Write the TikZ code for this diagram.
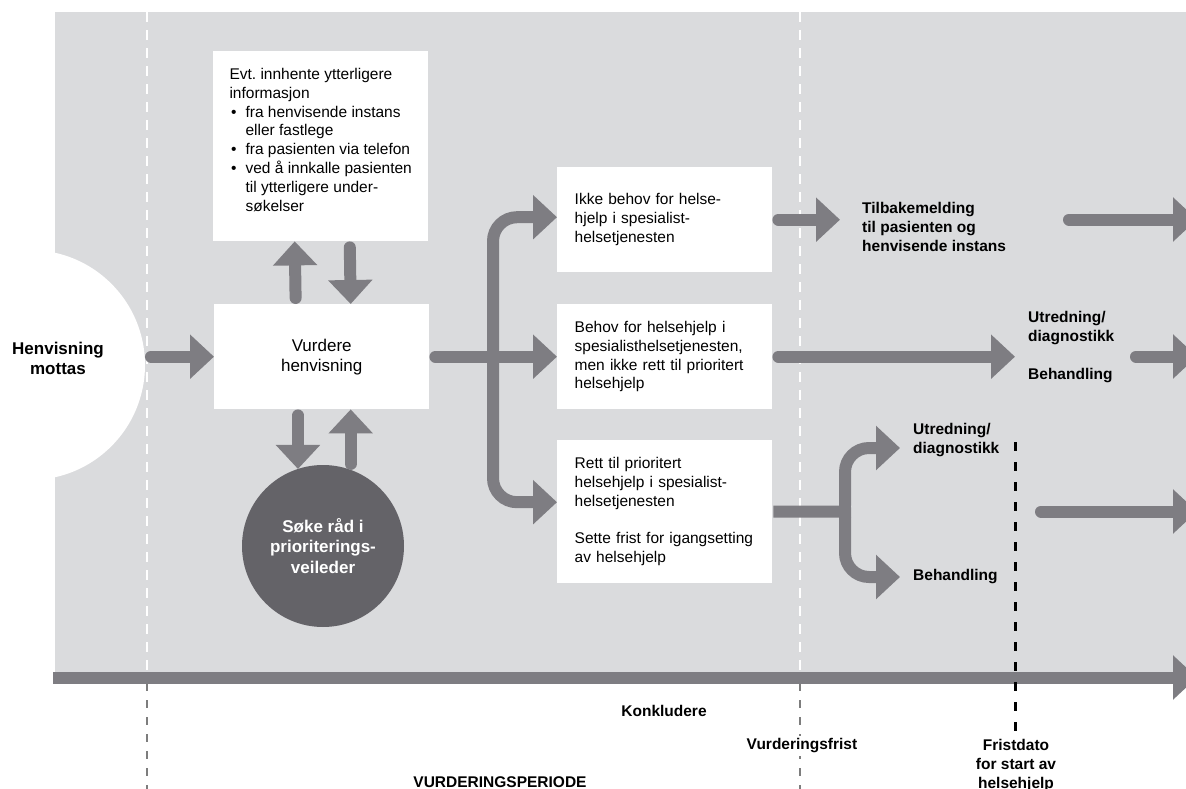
\documentclass[tikz,border=0pt]{standalone}
\usepackage{fontspec}
\setmainfont{Liberation Sans}
\frenchspacing
\usetikzlibrary{arrows.meta}

\definecolor{bggray}{RGB}{218,219,221}
\definecolor{arrowgray}{RGB}{126,125,130}
\definecolor{circgray}{RGB}{100,99,104}
\definecolor{dashgray}{RGB}{125,125,125}

\newcommand\txtfont{\fontsize{15.5}{18.8}\selectfont}
\newcommand\lblfont{\bfseries\fontsize{15.5}{19}\selectfont}
\newcommand\pkt{\makebox[16pt][l]{\hspace{1.5pt}\textbullet}}
\newcommand\inn{\hspace*{16pt}}

\begin{document}
\begin{tikzpicture}[x=1pt,y=-1pt,
                box/.style={rectangle,fill=white,anchor=north west,inner xsep=17.5pt,
                inner ysep=0pt,text width=180pt,minimum height=105pt,align=left,font=\txtfont},
                infobox/.style={rectangle,fill=white,anchor=north west,inner sep=0pt,
                minimum width=215pt,minimum height=190pt,align=left,font=\txtfont},
                flow/.style={draw=arrowgray,line width=12pt,line cap=round,shorten <=6pt,
                -{Triangle[length=24pt,width=43pt]}},
                lbl/.style={font=\lblfont,align=left,inner sep=0pt},
                whitedash/.style={draw=white,line width=2pt,dash pattern=on 10pt off 8pt},
                greydash/.style={draw=dashgray,line width=2.5pt,dash pattern=on 8pt off 9pt},
                blackdash/.style={draw=black,line width=3pt,dash pattern=on 9pt off 11pt}]
                \useasboundingbox (0,0) rectangle (1186,789);
                \clip (0,0) rectangle (1186,789);
                % grey field and timeline marks
                \fill[bggray] (55,12) rectangle (1186,672);
                \node (start) at (30,365) [circle,fill=white,inner sep=0pt,outer sep=0pt,minimum size=230pt] {};
                \draw[whitedash] (147,12) -- (147,672);
                \draw[whitedash] (800,12) -- (800,672);
                \draw[greydash] (147,683) -- (147,789);
                \draw[greydash] (800,683) -- (800,789);

                \node (mottas) at (58,358) [lbl,align=center,font=\bfseries\fontsize{17}{20}\selectfont] {Henvisning\\mottas};
                \node (info) at (213,51) [infobox] {Evt. innhente ytterligere\\
                    informasjon\\
                    \pkt fra henvisende instans\\
                    \inn eller fastlege\\
                    \pkt fra pasienten via telefon\\
                    \pkt ved å innkalle pasienten\\
                    \inn til ytterligere under-\\
                    \inn søkelser\rule[-13pt]{0pt}{13pt}};
                \node (vurdere) at (214,304) [box,align=center,font=\fontsize{17}{20}\selectfont] {Vurdere\\henvisning};
                \node (soke) at (323,546) [circle,fill=circgray,text=white,inner sep=0pt,outer sep=0pt,
                    minimum size=162pt,align=center,font=\bfseries\fontsize{17}{20.5}\selectfont] {Søke råd i\\prioriterings-\\veileder};

                \node (ikke) at (557,167) [box] {Ikke behov for helse-\\hjelp i spesialist-\\helsetjenesten};
                \node (behov) at (557,304) [box] {Behov for helsehjelp i\\spesialisthelsetjenesten,\\men ikke rett til prioritert\\helsehjelp};
                \node (rett) at (557,440) [box,minimum height=143pt] {Rett til prioritert\\helsehjelp i spesialist-\\helsetjenesten\\[18.8pt]Sette frist for igangsetting\\av helsehjelp};

                \node (tilbake) at (862,227) [lbl,anchor=west] {Tilbakemelding\\til pasienten og\\henvisende instans};
                \node (utred1) at (1028,347.5) [lbl,anchor=west] {Utredning/\\diagnostikk\\[19pt]Behandling};
                \node (utred2) at (913,440.5) [lbl,anchor=west] {Utredning/\\diagnostikk};
                \node (beh2) at (913,577) [lbl,anchor=west] {Behandling};

                \coordinate (split) at (493,356.5);
                \coordinate (split2) at (845,511.5);
                \coordinate (out1) at (1063,219.5);
                \coordinate (rim1) at (1197,219.5);
                \coordinate (out2) at (1130,356.5);
                \coordinate (rim2) at (1197,356.5);
                \coordinate (out3) at (1035,511.5);
                \coordinate (rim3) at (1197,511.5);
                \coordinate (axis0) at (53,677.5);
                \coordinate (axis1) at (1197,677.5);

                % arrows
                \draw (start.east |- vurdere.west) edge[flow] (vurdere.west);
                \draw ([xshift=-26pt]vurdere.north) edge[flow] ([xshift=-26pt]info.south);
                \draw ([xshift=29pt]info.south) edge[flow] ([xshift=29pt]vurdere.north);
                \draw (soke.108 |- vurdere.south) edge[flow] (soke.108);
                \draw (soke.70) edge[flow] (soke.70 |- vurdere.south);
                \draw (vurdere.east) edge[flow] (behov.west);
                \draw[flow,rounded corners=24pt] (split) |- ([yshift=2.5pt]ikke.west);
                \draw[flow,rounded corners=24pt] (split) |- ([yshift=9.5pt]rett.west);
                \draw[flow,shorten >=22pt] (ikke.east) -- (ikke.east -| tilbake.west);
                \draw[flow,shorten >=13pt] (behov.east) -- (behov.east -| utred1.west);
                \draw[flow,-,line cap=butt,shorten <=0pt] ([xshift=1pt]rett.east) -- ([xshift=6pt]split2);
                \draw[flow,rounded corners=24pt,shorten >=13pt] (split2) |- ([yshift=-7.5pt]utred2.west);
                \draw[flow,rounded corners=24pt,shorten >=13pt] (split2) |- (beh2.west);
                \draw (out1) edge[flow] (rim1);
                \draw (out2) edge[flow] (rim2);
                \draw (out3) edge[flow] (rim3);
                \draw[flow,line cap=butt,shorten <=0pt] (axis0) -- (axis1);
                \draw[blackdash] (1015,442) -- (1015,789);

                % bottom texts
                \node (konkl) at (664,711) [lbl] {Konkludere};
                \node (vfrist) at (802,746) [lbl,fill=white,inner sep=3pt] {Vurderingsfrist};
                \node (periode) at (500,782) [lbl] {VURDERINGSPERIODE};
                \node (fristdato) at (1016,765) [lbl,align=center,fill=white,inner sep=3pt] {Fristdato\\for start av\\helsehjelp};
            \end{tikzpicture}
\end{document}
